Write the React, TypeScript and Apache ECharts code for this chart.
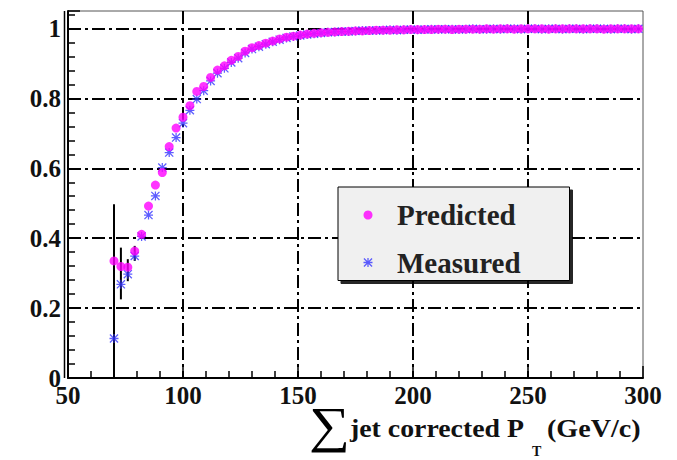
import React, { useEffect, useRef } from 'react';
import * as echarts from 'echarts';

const xValues = [
  70, 73, 76, 79, 82, 85, 88, 91, 94, 97, 100, 103, 106, 109, 112, 115, 118, 121, 124, 127,
  130, 133, 136, 139, 142, 145, 148, 151, 154, 157, 160, 163, 166, 169, 172, 175, 178, 181, 184, 187,
  190, 193, 196, 199, 202, 205, 208, 211, 214, 217, 220, 223, 226, 229, 232, 235, 238, 241, 244, 247,
  250, 253, 256, 259, 262, 265, 268, 271, 274, 277, 280, 283, 286, 289, 292, 295, 298,
];

const predicted = [
  0.335, 0.319, 0.317, 0.363, 0.411, 0.492, 0.552, 0.588, 0.662, 0.715, 0.746, 0.779, 0.820, 0.834, 0.860, 0.881, 0.893, 0.909, 0.920, 0.935,
  0.945, 0.951, 0.958, 0.964, 0.970, 0.975, 0.978, 0.981, 0.984, 0.986, 0.988, 0.989, 0.990, 0.991, 0.992, 0.993, 0.993, 0.994, 0.995, 0.995,
  0.995, 0.996, 0.996, 0.997, 0.997, 0.997, 0.997, 0.998, 0.998, 0.997, 0.998, 0.998, 0.998, 0.998, 0.999, 0.998, 0.999, 0.999, 0.998, 0.999,
  0.999, 0.999, 0.999, 0.998, 0.999, 0.999, 0.999, 0.999, 0.999, 0.999, 0.999, 0.998, 0.999, 0.999, 0.999, 0.999, 0.999,
];

const measured = [
  0.113, 0.268, 0.297, 0.349, 0.405, 0.466, 0.521, 0.602, 0.645, 0.688, 0.729, 0.766, 0.798, 0.822, 0.850, 0.872, 0.886, 0.903, 0.915, 0.930,
  0.941, 0.948, 0.955, 0.962, 0.968, 0.973, 0.977, 0.980, 0.983, 0.985, 0.987, 0.989, 0.990, 0.991, 0.991, 0.993, 0.994, 0.994, 0.994, 0.995,
  0.996, 0.995, 0.996, 0.997, 0.996, 0.997, 0.998, 0.997, 0.998, 0.998, 0.997, 0.998, 0.999, 0.998, 0.998, 0.999, 0.998, 0.999, 0.999, 0.998,
  0.999, 0.999, 0.998, 0.999, 0.999, 0.998, 0.999, 0.999, 0.998, 0.999, 0.999, 0.999, 0.998, 0.999, 0.999, 0.998, 0.999,
];

// vertical error bars on the measured points (only the visible ones)
const errX = [70, 73, 76, 79];
const errLow = [0, 0.225, 0.277, 0.335];
const errHigh = [0.497, 0.373, 0.34, 0.378];

const seriesNames = ['Predicted', 'Measured'];
const titleParts = ['\u2211', 'jet corrected P', 'T', '(GeV/c)'];

const STAR =
  'path://M0 4.3L10 4.3L10 5.7L0 5.7Z M4.3 0L5.7 0L5.7 10L4.3 10Z M1 0L10 9L9 10L0 1Z M9 0L10 1L1 10L0 9Z';

const SERIF = '"Liberation Serif", "Times New Roman", serif';
const DASHDOT = [13, 4, 3, 4];

export default function App() {
  const ref = useRef<HTMLDivElement>(null);

  useEffect(() => {
    if (!ref.current) return;
    const chart = echarts.init(ref.current, undefined, { renderer: 'svg' });

    const labelFmt = (v: number) => {
      const k = v * 5;
      return Math.abs(k - Math.round(k)) < 1e-6 ? String(Math.round(v * 10) / 10) : '';
    };

    chart.setOption({
      animation: false,
      backgroundColor: '#ffffff',
      grid: {
        left: 68,
        right: 34,
        top: 11,
        bottom: 82,
        show: true,
        borderColor: '#555',
        borderWidth: 1,
      },
      xAxis: {
        type: 'value',
        min: 50,
        max: 300,
        interval: 50,
        axisLine: { show: true, onZero: false, lineStyle: { color: '#000', width: 2 } },
        axisTick: { show: true, inside: true, length: 12, lineStyle: { color: '#000', width: 1.5 } },
        minorTick: { show: true, splitNumber: 5, length: 7, lineStyle: { color: '#000', width: 1.5 } },
        axisLabel: {
          color: '#111',
          fontFamily: SERIF,
          fontWeight: 'bold',
          fontSize: 25,
          margin: 5,
        },
        splitLine: {
          show: true,
          showMinLine: false,
          showMaxLine: false,
          lineStyle: { color: '#000', width: 2, type: DASHDOT },
        },
      },
      yAxis: {
        type: 'value',
        min: 0,
        max: 1.05,
        interval: 0.2,
        axisLine: { show: true, lineStyle: { color: '#000', width: 2 } },
        axisTick: { show: true, inside: true, length: 12, lineStyle: { color: '#000', width: 1.5 } },
        minorTick: { show: true, splitNumber: 5, length: 7, lineStyle: { color: '#000', width: 1.5 } },
        axisLabel: {
          color: '#111',
          fontFamily: SERIF,
          fontWeight: 'bold',
          fontSize: 25,
          margin: 7,
          padding: [10, 0, 0, 0],
          formatter: labelFmt,
          showMaxLabel: false,
        },
        splitLine: {
          show: true,
          showMinLine: false,
          showMaxLine: false,
          lineStyle: { color: '#000', width: 2, type: DASHDOT },
        },
      },
      legend: {
        orient: 'vertical',
        left: 338,
        top: 187,
        data: [
          { name: seriesNames[0], icon: 'circle' },
          { name: seriesNames[1], icon: STAR },
        ],
        itemWidth: 48,
        itemHeight: 9,
        itemGap: 17.5,
        padding: [13, 49, 3, 25.5],
        backgroundColor: '#f0f0f0',
        borderColor: '#000',
        borderWidth: 1,
        shadowColor: 'rgba(0,0,0,0.85)',
        shadowBlur: 1,
        shadowOffsetX: 3,
        shadowOffsetY: 3,
        textStyle: {
          fontFamily: SERIF,
          fontWeight: 'bold',
          fontSize: 29,
          lineHeight: 30,
          color: '#222',
        },
        selectedMode: false,
      },
      series: [
        {
          name: 'errors',
          type: 'custom',
          silent: true,
          clip: true,
          z: 1,
          data: errX.map((x, i) => [x, errLow[i], errHigh[i]]),
          renderItem: (_params: any, api: any) => {
            const p1 = api.coord([api.value(0), api.value(1)]);
            const p2 = api.coord([api.value(0), api.value(2)]);
            return {
              type: 'line',
              shape: { x1: p1[0], y1: p1[1], x2: p2[0], y2: p2[1] },
              style: { stroke: '#000', lineWidth: 2 },
            };
          },
        },
        {
          name: seriesNames[1],
          type: 'scatter',
          symbol: STAR,
          symbolSize: 9,
          z: 2,
          itemStyle: { color: '#3535ff' },
          data: xValues.map((x, i) => [x, measured[i]]),
        },
        {
          name: seriesNames[0],
          type: 'scatter',
          symbol: 'circle',
          symbolSize: 9,
          z: 3,
          itemStyle: { color: '#ff00ff' },
          data: xValues.map((x, i) => [x, predicted[i]]),
        },
      ],
      graphic: [
        {
          type: 'line',
          shape: { x1: 64.5, y1: 11, x2: 64.5, y2: 378 },
          style: { stroke: '#000', lineWidth: 1.5 },
          silent: true,
        },
        {
          type: 'text',
          x: 309,
          y: 425,
          scaleX: 1.15,
          style: {
            text: titleParts[0],
            fontFamily: SERIF,
            fontSize: 50,
            fill: '#000',
            align: 'left',
            verticalAlign: 'middle',
          },
        },
        {
          type: 'text',
          x: 350,
          y: 428,
          scaleX: 1.07,
          style: {
            text: titleParts[1],
            fontFamily: SERIF,
            fontWeight: 'bold',
            fontSize: 26,
            fill: '#111',
            align: 'left',
            verticalAlign: 'middle',
          },
        },
        {
          type: 'text',
          x: 532,
          y: 451,
          style: {
            text: titleParts[2],
            fontFamily: SERIF,
            fontWeight: 'bold',
            fontSize: 14,
            fill: '#111',
            align: 'left',
            verticalAlign: 'middle',
          },
        },
        {
          type: 'text',
          x: 547,
          y: 428,
          scaleX: 1.08,
          style: {
            text: titleParts[3],
            fontFamily: SERIF,
            fontWeight: 'bold',
            fontSize: 26,
            fill: '#111',
            align: 'left',
            verticalAlign: 'middle',
          },
        },
      ],
    });

    return () => {
      chart.dispose();
    };
  }, []);

  return (
    <div
      ref={ref}
      style={{ position: 'absolute', left: 0, top: 0, width: 677, height: 460 }}
    />
  );
}
